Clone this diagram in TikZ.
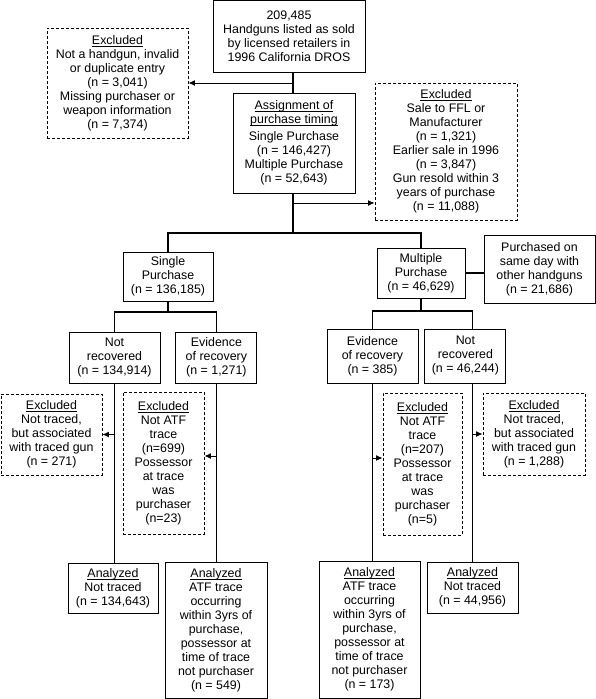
\documentclass[tikz,border=0pt]{standalone}
\usepackage{amsmath}
\usepackage{fontspec}
\setmainfont{Liberation Sans}
\usepackage{tikz}
\usetikzlibrary{arrows.meta, positioning}
\newcommand{\uln}[1]{\underline{\smash[b]{#1}}}

\begin{document}
\begin{tikzpicture}[
  x=1pt, y=-1pt,
  >={Latex[length=6.5pt, width=6pt]},
  box/.style={draw, line width=0.9pt, align=center, inner sep=0pt,
    font=\fontsize{12.4}{14}\selectfont},
  excl/.style={box, dash pattern=on 3pt off 2pt},
  dim/.style 2 args={minimum width=#1pt, minimum height=#2pt},
  link/.style={line width=1.7pt},
  arr/.style={->, line width=1pt}
]
  \useasboundingbox (0,0) rectangle (596,699);

  \node[box, dim={152}{72}] (top) at (289,36.5)
    {209,485\\Handguns listed as sold\\by licensed retailers in\\1996 California DROS};
  \node[excl, dim={141}{110}] (excl1) at (117.5,83)
    {\uln{Excluded}\\Not a handgun, invalid\\or duplicate entry\\(n = 3,041)\\Missing purchaser or\\weapon information\\(n = 7,374)};
  \node[box, dim={122}{100}] (assign) at (294,143)
    {\uln{Assignment of}\\\uln{purchase timing}\\[3pt]Single Purchase\\(n = 146,427)\\Multiple Purchase\\(n = 52,643)};
  \node[excl, dim={142}{137}] (excl2) at (446,151.5)
    {\uln{Excluded}\\Sale to FFL or\\Manufacturer\\(n = 1,321)\\Earlier sale in 1996\\(n = 3,847)\\Gun resold within 3\\years of purchase\\(n = 11,088)};

  \node[box, dim={90}{49}] (sp) at (168,276.5) {Single\\Purchase\\(n = 136,185)};
  \node[box, dim={88}{50}] (mp) at (421,273) {Multiple\\Purchase\\(n = 46,629)};
  \node[box, dim={111}{68}] (same) at (539.5,269)
    {Purchased on\\same day with\\other handguns\\(n = 21,686)};

  \node[box, dim={91}{51}] (nrL) at (114.5,357.5) {Not\\recovered\\(n = 134,914)};
  \node[box, dim={81}{51}, right=15pt of nrL] (evL) {Evidence\\of recovery\\(n = 1,271)};
  \node[box, dim={91}{54}] (evR) at (372.5,356) {Evidence\\of recovery\\(n = 385)};
  \node[box, dim={81}{54}, right=6pt of evR] (nrR) {Not\\recovered\\(n = 46,244)};

  \node[excl, dim={101}{81}] (exL) at (51.5,434.5)
    {\uln{Excluded}\\Not traced,\\but associated\\with traced gun\\(n = 271)};
  \node[excl, dim={81}{142}] (atfL) at (163.5,463)
    {\uln{Excluded}\\Not ATF\\trace\\(n=699)\\Possessor\\at trace\\was\\purchaser\\(n=23)};
  \node[excl, dim={79}{142}] (atfR) at (422.5,464)
    {\uln{Excluded}\\Not ATF\\trace\\(n=207)\\Possessor\\at trace\\was\\purchaser\\(n=5)};
  \node[excl, dim={102}{82}] (exR) at (534,434)
    {\uln{Excluded}\\Not traced,\\but associated\\with traced gun\\(n = 1,288)};

  \node[box, dim={90}{50}] (anL) at (113,588) {\uln{Analyzed}\\Not traced\\(n = 134,643)};
  \node[box, dim={102}{136}] (atL) at (216,630)
    {\uln{Analyzed}\\ATF trace\\occurring\\within 3yrs of\\purchase,\\possessor at\\time of trace\\not purchaser\\(n = 549)};
  \node[box, dim={101}{137}] (atR) at (369.5,629.5)
    {\uln{Analyzed}\\ATF trace\\occurring\\within 3yrs of\\purchase,\\possessor at\\time of trace\\not purchaser\\(n = 173)};
  \node[box, dim={91}{51}] (anR) at (472.5,587.5) {\uln{Analyzed}\\Not traced\\(n = 44,956)};

  \coordinate (split) at (293,233);
  \coordinate (cut) at (293,203);
  \coordinate (splitL) at (168,312);
  \coordinate (splitR) at (421,311);
  \coordinate (tL) at ([yshift=7pt]atfL.east);
  \coordinate (tR) at ([yshift=6pt]atfR.west);

  \draw[link] (top.south -| split) -- (assign.north -| split);
  \draw[link] (assign.south -| split) -- (split);
  \draw[link] (sp.north) |- (split) -| (mp.north);
  \draw[link] (mp.east) -- (mp.east -| same.west);
  \draw[link] (sp.south) -- (splitL);
  \draw[link] (nrL.north) |- (splitL) -| (evL.north);
  \draw[link] (mp.south) -- (splitR);
  \draw[link] (evR.north) |- (splitR) -| (anR.north |- nrR.north);
  \draw[link] (nrL.south) -- (nrL.south |- anL.north);
  \draw[link] (evL.south) -- (evL.south |- atL.north);
  \draw[link] (evR.south) -- (evR.south |- atR.north);
  \draw[link] (anR.north |- nrR.south) -- (anR.north);

  \draw[arr] (excl1.east -| split) -- (excl1.east);
  \draw[arr] (cut) -- (cut -| excl2.west);
  \draw[arr] (exL.east -| nrL.south) -- (exL.east);
  \draw[arr] (tL -| evL.south) -- (tL);
  \draw[arr] (tR -| evR.south) -- (tR);
  \draw[arr] (exR.west -| anR.north) -- (exR.west);
\end{tikzpicture}
\end{document}
